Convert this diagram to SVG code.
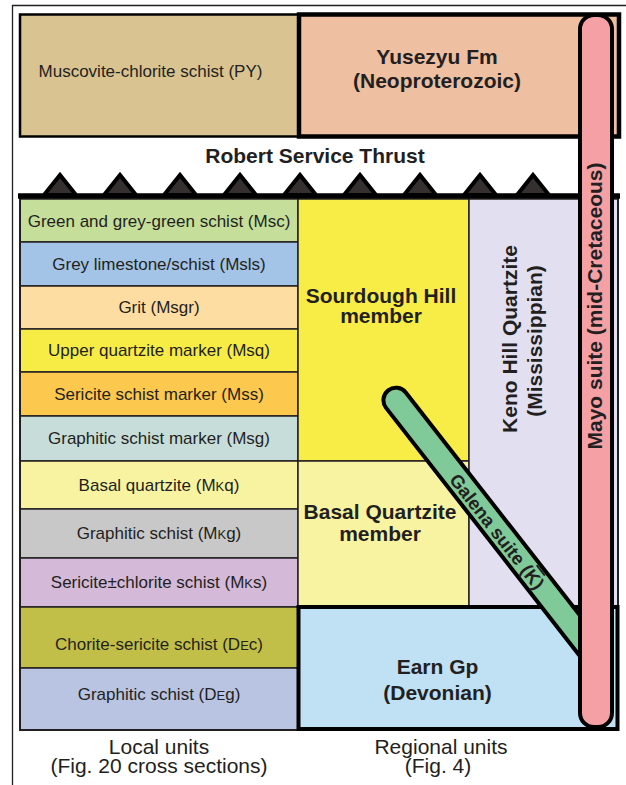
<svg xmlns="http://www.w3.org/2000/svg" width="626" height="785" viewBox="0 0 626 785">
<style>
.t{font-family:"Liberation Sans",Arial,Helvetica,sans-serif;fill:#231F20}
.r{font-size:17px}
.b{font-size:21px;font-weight:bold}
.c{text-anchor:middle}
.u{stroke:#231F20;stroke-width:1.5}
.sm{font-size:13px}
</style>
<defs>
<polygon id="tri" points="-16,195 0,175 16,195" fill="#35302F" stroke="#000" stroke-width="4" stroke-linejoin="miter"/>
</defs>
<rect width="626" height="785" fill="#fff"/>
<path d="M12.5,785 V5.5 H626" fill="none" stroke="#231F20" stroke-width="1.3"/>

<g id="muscovite">
<rect x="20" y="14.5" width="279" height="122" fill="#D9C390" stroke="#000" stroke-width="2.5"/>
<text class="t r c" x="150.5" y="77">Muscovite-chlorite schist (PY)</text>
</g>
<g id="yusezyu">
<rect x="299" y="14.5" width="320" height="122" fill="#EEBFA0" stroke="#000" stroke-width="4.5"/>
<text class="t b c" x="437" y="64">Yusezyu Fm</text>
<text class="t b c" x="437" y="88">(Neoproterozoic)</text>
</g>

<g id="thrust">
<use href="#tri" x="60"/><use href="#tri" x="120"/><use href="#tri" x="180"/><use href="#tri" x="240"/><use href="#tri" x="300"/><use href="#tri" x="360"/><use href="#tri" x="420"/><use href="#tri" x="480"/><use href="#tri" x="533"/>
<text class="t b c" x="315" y="163">Robert Service Thrust</text>
</g>

<g id="local-units">
<rect class="u" x="20" y="199" width="278" height="43" fill="#C5DF9B"/>
<rect class="u" x="20" y="242" width="278" height="44" fill="#A3C4E7"/>
<rect class="u" x="20" y="286" width="278" height="43" fill="#FDDDA1"/>
<rect class="u" x="20" y="329" width="278" height="43" fill="#F7EC45"/>
<rect class="u" x="20" y="372" width="278" height="44" fill="#FDC84E"/>
<rect class="u" x="20" y="416" width="278" height="45" fill="#C7DDDA"/>
<rect class="u" x="20" y="461" width="278" height="48" fill="#F8F3A0"/>
<rect class="u" x="20" y="509" width="278" height="49" fill="#C8C8C8"/>
<rect class="u" x="20" y="558" width="278" height="49" fill="#D4B9D9"/>
<rect class="u" x="20" y="607" width="278" height="61" fill="#C2BF48"/>
<rect class="u" x="20" y="668" width="278" height="62" fill="#B9C3E2"/>
<text class="t r c" x="159" y="226.5">Green and grey-green schist (Msc)</text>
<text class="t r c" x="159" y="269.5">Grey limestone/schist (Msls)</text>
<text class="t r c" x="159" y="313">Grit (Msgr)</text>
<text class="t r c" x="159" y="356">Upper quartzite marker (Msq)</text>
<text class="t r c" x="159" y="399.5">Sericite schist marker (Mss)</text>
<text class="t r c" x="159" y="443.5">Graphitic schist marker (Msg)</text>
<text class="t r c" x="159" y="491">Basal quartzite (M<tspan class="sm">K</tspan>q)</text>
<text class="t r c" x="159" y="539">Graphitic schist (M<tspan class="sm">K</tspan>g)</text>
<text class="t r c" x="159" y="588">Sericite±chlorite schist (M<tspan class="sm">K</tspan>s)</text>
<text class="t r c" x="159" y="650">Chorite-sericite schist (D<tspan class="sm">E</tspan>c)</text>
<text class="t r c" x="159" y="699.5">Graphitic schist (D<tspan class="sm">E</tspan>g)</text>
</g>

<g id="sourdough">
<rect class="u" x="298" y="199" width="171" height="262" fill="#F8ED46"/>
<text class="t b c" x="381" y="303">Sourdough Hill</text>
<text class="t b c" x="381" y="323">member</text>
</g>
<g id="basal-member">
<rect class="u" x="298" y="461" width="171" height="146" fill="#F8F3A0"/>
<text class="t b c" x="380" y="519">Basal Quartzite</text>
<text class="t b c" x="380" y="540.5">member</text>
</g>
<g id="keno">
<rect class="u" x="469" y="199" width="149" height="408" fill="#E1DFF0"/>
<text class="t b c" transform="translate(517,339) rotate(-90)">Keno Hill Quartzite</text>
<text class="t b c" transform="translate(541.5,341) rotate(-90)">(Mississippian)</text>
</g>

<g id="frame">
<rect x="20" y="197" width="598" height="533" fill="none" stroke="#231F20" stroke-width="2"/>
<path d="M18,196 H620" stroke="#000" stroke-width="5.5"/>
</g>

<g id="earn">
<rect x="298.5" y="607" width="319" height="122" fill="#C0E0F4" stroke="#000" stroke-width="4"/>
<text class="t b c" x="437.5" y="674">Earn Gp</text>
<text class="t b c" x="437.5" y="700">(Devonian)</text>
</g>

<g id="galena">
<rect x="-11" y="-12.5" width="348" height="25" rx="12.5" transform="translate(395,399) rotate(52)" fill="#80C998" stroke="#000" stroke-width="4"/>
<text class="t c" font-size="18.5" font-weight="bold" transform="translate(497,531.5) rotate(52)" y="6.5">Galena suite (<tspan text-decoration="overline">K</tspan>)</text>
</g>

<g id="mayo">
<rect x="580" y="15" width="32" height="712" rx="14" fill="#F4A0A5" stroke="#000" stroke-width="4"/>
<text class="t b c" transform="translate(602,306) rotate(-90)">Mayo suite (mid-Cretaceous)</text>
</g>

<g id="captions">
<text class="t c" font-size="21" x="159" y="753.5">Local units</text>
<text class="t c" font-size="21" x="159" y="773">(Fig. 20 cross sections)</text>
<text class="t c" font-size="21" x="441" y="753.5">Regional units</text>
<text class="t c" font-size="21" x="438" y="773">(Fig. 4)</text>
</g>
</svg>
